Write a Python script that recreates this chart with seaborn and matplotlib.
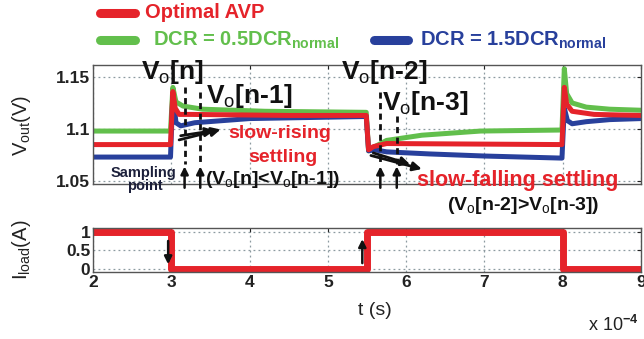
import numpy as np
import pandas as pd
import matplotlib
matplotlib.use("Agg")
import matplotlib.pyplot as plt
from matplotlib.lines import Line2D
from matplotlib.ticker import FixedLocator
import seaborn as sns

# ---- data (time in units of 1e-4 s) ----
t_avp = [2.0, 2.99, 3.02, 3.05, 3.10, 3.25, 4.5, 5.49, 5.52, 5.58, 5.75, 7.99, 8.02, 8.05, 8.12, 8.40, 9.0]
v_avp = [1.085, 1.085, 1.136, 1.120, 1.114, 1.114, 1.113, 1.113, 1.080, 1.083, 1.086, 1.085, 1.140, 1.124, 1.117, 1.114, 1.113]

t_low = [2.0, 2.99, 3.02, 3.06, 3.15, 3.40, 4.20, 5.49, 5.52, 5.60, 5.75, 6.20, 6.95, 7.99, 8.02, 8.05, 8.12, 8.30, 8.60, 9.0]
v_low = [1.098, 1.098, 1.140, 1.126, 1.122, 1.119, 1.117, 1.116, 1.079, 1.083, 1.089, 1.094, 1.098, 1.099, 1.158, 1.134, 1.125, 1.121, 1.119, 1.118]

t_high = [2.0, 2.99, 3.02, 3.06, 3.12, 3.30, 4.00, 5.49, 5.52, 5.60, 5.75, 6.30, 7.00, 7.99, 8.02, 8.06, 8.12, 8.30, 8.60, 9.0]
v_high = [1.073, 1.073, 1.134, 1.106, 1.103, 1.106, 1.110, 1.112, 1.079, 1.080, 1.078, 1.076, 1.074, 1.072, 1.120, 1.108, 1.105, 1.107, 1.109, 1.110]

t_load = [2.0, 3.0, 3.0, 5.5, 5.5, 8.0, 8.0, 9.0]
i_load = [1, 1, 0, 0, 1, 1, 0, 0]

series_names = ["Optimal AVP", "DCR = 0.5DCR", "DCR = 1.5DCR"]
colors = ["#e5232a", "#62bf4c", "#28409c"]

x_ticks = [2, 3, 4, 5, 6, 7, 8, 9]
v_ticks = [1.05, 1.1, 1.15]
v_tick_labels = ["1.05", "1.1", "1.15"]
i_ticks = [0, 0.5, 1]
i_tick_labels = ["0", "0.5", "1"]

frames = []
for name, t, v in zip(series_names, [t_avp, t_low, t_high], [v_avp, v_low, v_high]):
    frames.append(pd.DataFrame({"t": t, "v": v, "series": name}))
vout = pd.concat(frames, ignore_index=True)
iload = pd.DataFrame({"t": t_load, "i": i_load})

sns.set_theme(style="white")
plt.rcParams["font.family"] = ["Liberation Sans", "DejaVu Sans"]
plt.rcParams["mathtext.fontset"] = "custom"
plt.rcParams["mathtext.rm"] = "Liberation Sans"
plt.rcParams["mathtext.bf"] = "Liberation Sans:bold"
plt.rcParams["mathtext.it"] = "Liberation Sans:bold"
plt.rcParams["mathtext.default"] = "bf"

fig = plt.figure(figsize=(6.44, 3.39), dpi=100)
ax1 = fig.add_axes([0.1444, 0.4572, 0.851, 0.3511])
ax2 = fig.add_axes([0.1444, 0.1976, 0.851, 0.1298])

# Vout traces: the optimal trace is drawn last so it sits between the others
order = ["DCR = 0.5DCR", "DCR = 1.5DCR", "Optimal AVP"]
pal = dict(zip(series_names, colors))
for name in order:
    sns.lineplot(data=vout[vout.series == name], x="t", y="v", color=pal[name],
                 linewidth=3.6, estimator=None, sort=False, ax=ax1, legend=False)

sns.lineplot(data=iload, x="t", y="i", color="#e5232a", linewidth=5.0,
             estimator=None, sort=False, ax=ax2, legend=False)

grid_kw = dict(color="#8c9aa0", linestyle=(0, (1.5, 2.5)), linewidth=0.9)
for ax in (ax1, ax2):
    ax.set_xlim(2, 9)
    ax.xaxis.set_major_locator(FixedLocator(x_ticks))
    ax.grid(True, **grid_kw)
    ax.tick_params(direction="in", length=3, width=0.8, colors="#222222",
                   labelsize=12.5, pad=2, top=True, right=True)
    for sp in ax.spines.values():
        sp.set_color("#555555")
        sp.set_linewidth(1.0)
    ax.set_xlabel("")
    ax.set_ylabel("")

ax1.set_ylim(1.0471, 1.1615)
ax1.set_yticks(v_ticks)
ax1.set_yticklabels(v_tick_labels, fontweight="bold", fontsize=12.5)
ax1.set_xticklabels([])

ax2.set_ylim(-0.09, 1.1)
ax2.set_yticks(i_ticks)
ax2.set_yticklabels(i_tick_labels, fontweight="bold", fontsize=12.5)
ax2.set_xticks(x_ticks)
ax2.set_xticklabels([str(x) for x in x_ticks], fontweight="bold", fontsize=12.5)

fig.text(0.034, 0.63, r"V$_{\mathrm{out}}$(V)", rotation=90, ha="center", va="center",
         fontsize=14.5, color="#222222")
fig.text(0.034, 0.262, r"I$_{\mathrm{load}}$(A)", rotation=90, ha="center", va="center",
         fontsize=14.5, color="#222222")
fig.text(0.582, 0.083, "t (s)", ha="center", va="center", fontsize=14, color="#222222")
fig.text(0.952, 0.04, r"x 10$^{-4}$", ha="center", va="center", fontsize=13, color="#222222")

# legend
leg = [
    (0.155, 0.210, 0.962, 0.225, colors[0], "Optimal AVP"),
    (0.155, 0.210, 0.882, 0.238, colors[1], r"DCR = 0.5DCR$_{\mathbf{normal}}$"),
    (0.580, 0.634, 0.882, 0.652, colors[2], r"DCR = 1.5DCR$_{\mathbf{normal}}$"),
]
for x0, x1, y, xt, c, txt in leg:
    fig.add_artist(Line2D([x0, x1], [y, y], transform=fig.transFigure, color=c,
                          linewidth=6.5, solid_capstyle="round"))
    fig.text(xt, y, txt, ha="left", va="center", fontsize=14.5, fontweight="bold", color=c)

# annotations on the Vout panel
big = dict(fontsize=19, fontweight="bold", color="#111111", ha="center", va="center",
           clip_on=False)
ax1.text(3.02, 1.1545, r"V$_\mathrm{o}$[n]", **big)
ax1.text(4.00, 1.1315, r"V$_\mathrm{o}$[n-1]", **big)
ax1.text(5.72, 1.1545, r"V$_\mathrm{o}$[n-2]", **big)
ax1.text(6.24, 1.1245, r"V$_\mathrm{o}$[n-3]", **big)

red = dict(fontweight="bold", color="#e5232a", ha="center", va="center", clip_on=False)
ax1.text(4.38, 1.0955, "slow-rising", fontsize=14, **red)
ax1.text(4.43, 1.0725, "settling", fontsize=14, **red)
ax1.text(7.42, 1.0505, "slow-falling settling", fontsize=15.5, **red)

paren = dict(fontsize=14, fontweight="bold", color="#111111", ha="center", va="center",
             clip_on=False)
ax1.text(4.29, 1.0515, r"(V$_\mathrm{o}$[n]<V$_\mathrm{o}$[n-1])", **paren)
ax1.text(7.49, 1.0265, r"(V$_\mathrm{o}$[n-2]>V$_\mathrm{o}$[n-3])", **paren)

small = dict(fontsize=10.5, fontweight="bold", color="#1b1f3a", ha="center", va="center",
             clip_on=False)
ax1.text(2.64, 1.0578, "Sampling", **small)
ax1.text(2.66, 1.0455, "point", **small)

# sampling instants
for ts, top in [(3.17, 1.140), (3.37, 1.136), (5.67, 1.136), (5.88, 1.112)]:
    ax1.plot([ts, ts], [top, 1.066], color="#111111", linestyle=(0, (2.2, 1.6)),
             linewidth=2.0, clip_on=False)
    ax1.annotate("", xy=(ts, 1.064), xytext=(ts, 1.0435), annotation_clip=False,
                 arrowprops=dict(arrowstyle="-|>", color="#111111", lw=1.8,
                                 mutation_scale=11, shrinkA=0, shrinkB=0))

arrow_kw = dict(arrowstyle="-|>", color="#111111", lw=2.0, mutation_scale=13,
                shrinkA=0, shrinkB=0)
ax1.annotate("", xy=(3.63, 1.0995), xytext=(3.10, 1.0895), arrowprops=arrow_kw)
ax1.annotate("", xy=(3.55, 1.0985), xytext=(3.12, 1.0935), arrowprops=arrow_kw)
ax1.annotate("", xy=(6.20, 1.0615), xytext=(5.55, 1.0745), arrowprops=arrow_kw,
             annotation_clip=False)
ax1.annotate("", xy=(6.05, 1.0660), xytext=(5.58, 1.0770), arrowprops=arrow_kw,
             annotation_clip=False)

# load step markers
ax2.annotate("", xy=(2.96, 0.12), xytext=(2.96, 0.75),
             arrowprops=dict(arrowstyle="-|>", color="#111111", lw=1.8, mutation_scale=11,
                             shrinkA=0, shrinkB=0))
ax2.annotate("", xy=(5.44, 0.80), xytext=(5.44, 0.15),
             arrowprops=dict(arrowstyle="-|>", color="#111111", lw=1.8, mutation_scale=11,
                             shrinkA=0, shrinkB=0))

fig.savefig("out.png", dpi=100)
